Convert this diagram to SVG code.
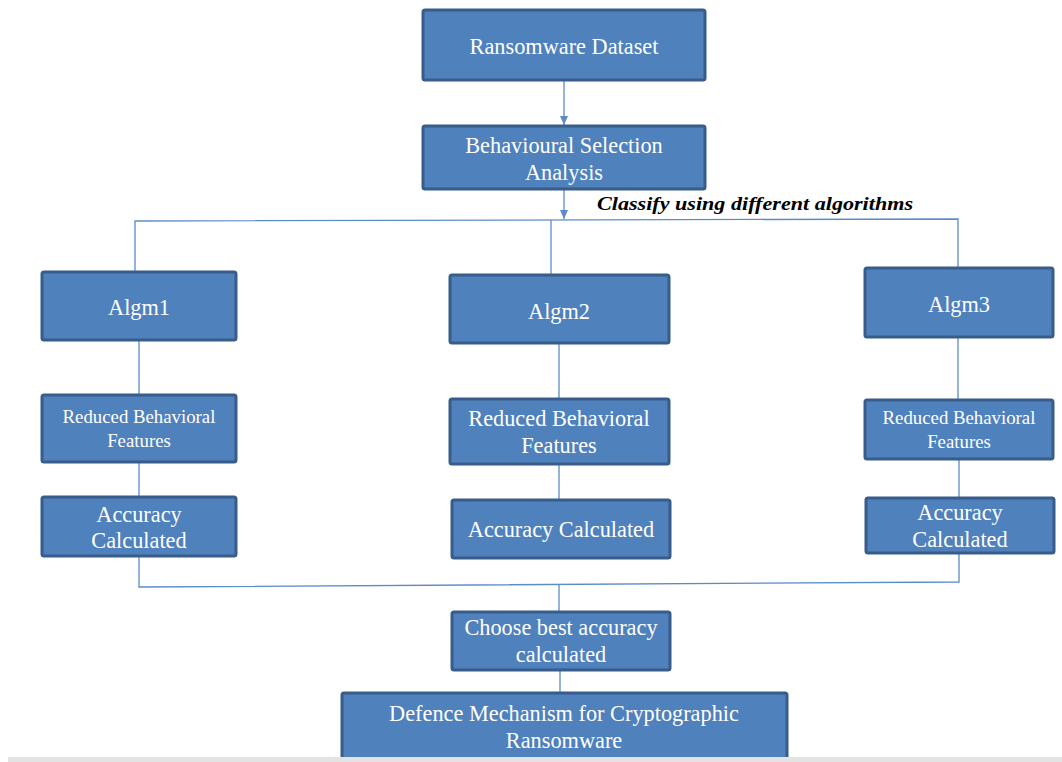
<svg xmlns="http://www.w3.org/2000/svg" width="1062" height="762" viewBox="0 0 1062 762">
<style>
.box{fill:#4f81bd;stroke:#385d8a;stroke-width:3}
.t{fill:#fff;font-family:'Liberation Serif','Times New Roman','DejaVu Serif',serif;font-size:22.3px;text-anchor:middle}
.s{font-size:18.8px}
.c{stroke:#5b8bc9;stroke-width:1.3;fill:none}
.lbl{font-family:'Liberation Serif','Times New Roman','DejaVu Serif',serif;font-size:18.5px;font-weight:bold;font-style:italic;fill:#000}
</style>
<defs>
<marker id="ah" markerWidth="10" markerHeight="10" refX="9" refY="5" orient="auto" markerUnits="userSpaceOnUse">
<path d="M0,1 L9,5 L0,9 Z" fill="#5b8bc9"/>
</marker>
</defs>
<rect x="0" y="0" width="1062" height="762" fill="#fff"/>
<g id="connectors">
<line class="c" x1="564" y1="81" x2="564" y2="125" marker-end="url(#ah)"/>
<line class="c" x1="564" y1="189" x2="564" y2="219" marker-end="url(#ah)"/>
<polyline class="c" points="135,272 135,221 958,219 958,268"/>
<line class="c" x1="551" y1="220" x2="551" y2="275"/>
<line class="c" x1="139" y1="340" x2="139" y2="395"/>
<line class="c" x1="139" y1="462" x2="139" y2="497"/>
<line class="c" x1="559" y1="343" x2="559" y2="399"/>
<line class="c" x1="559" y1="464" x2="559" y2="500"/>
<line class="c" x1="958" y1="337" x2="958" y2="400"/>
<line class="c" x1="959" y1="459" x2="959" y2="498"/>
<polyline class="c" points="139,556 139,587 959,582 959,553"/>
<line class="c" x1="559" y1="585" x2="559" y2="612"/>
<line class="c" x1="560" y1="670" x2="560" y2="693"/>
</g>
<text class="lbl" x="597" y="210" textLength="316" lengthAdjust="spacingAndGlyphs">Classify using different algorithms</text>
<g id="dataset"><rect class="box" x="423" y="10" width="282" height="70" rx="2"/><text class="t" x="564" y="54">Ransomware Dataset</text></g>
<g id="behavioural"><rect class="box" x="423" y="126" width="282" height="63" rx="2"/><text class="t" x="564" y="153">Behavioural Selection</text><text class="t" x="564" y="180">Analysis</text></g>
<g id="algm1"><rect class="box" x="42" y="272" width="194" height="68" rx="2"/><text class="t" x="139" y="315">Algm1</text></g>
<g id="algm2"><rect class="box" x="450" y="275" width="219" height="68" rx="2"/><text class="t" x="559" y="319">Algm2</text></g>
<g id="algm3"><rect class="box" x="865" y="268" width="188" height="69" rx="2"/><text class="t" x="959" y="312">Algm3</text></g>
<g id="reduced1"><rect class="box" x="42" y="395" width="194" height="67" rx="2"/><text class="t s" x="139" y="423">Reduced Behavioral</text><text class="t s" x="139" y="447">Features</text></g>
<g id="reduced2"><rect class="box" x="450" y="399" width="219" height="65" rx="2"/><text class="t" x="559" y="426">Reduced Behavioral</text><text class="t" x="559" y="453">Features</text></g>
<g id="reduced3"><rect class="box" x="865" y="400" width="188" height="59" rx="2"/><text class="t s" x="959" y="424">Reduced Behavioral</text><text class="t s" x="959" y="448">Features</text></g>
<g id="accuracy1"><rect class="box" x="42" y="497" width="194" height="59" rx="2"/><text class="t" x="139" y="522">Accuracy</text><text class="t" x="139" y="548">Calculated</text></g>
<g id="accuracy2"><rect class="box" x="452" y="500" width="218" height="58" rx="2"/><text class="t" x="561" y="537">Accuracy Calculated</text></g>
<g id="accuracy3"><rect class="box" x="866" y="498" width="188" height="55" rx="2"/><text class="t" x="960" y="520">Accuracy</text><text class="t" x="960" y="547">Calculated</text></g>
<g id="choose"><rect class="box" x="452" y="612" width="218" height="58" rx="2"/><text class="t" x="561" y="635">Choose best accuracy</text><text class="t" x="561" y="662">calculated</text></g>
<g id="defence"><rect class="box" x="342" y="693" width="445" height="66" rx="2"/><text class="t" x="564" y="721">Defence Mechanism for Cryptographic</text><text class="t" x="564" y="748">Ransomware</text></g>
<rect x="8" y="757" width="1054" height="5" fill="#e3e3e3"/>
</svg>
